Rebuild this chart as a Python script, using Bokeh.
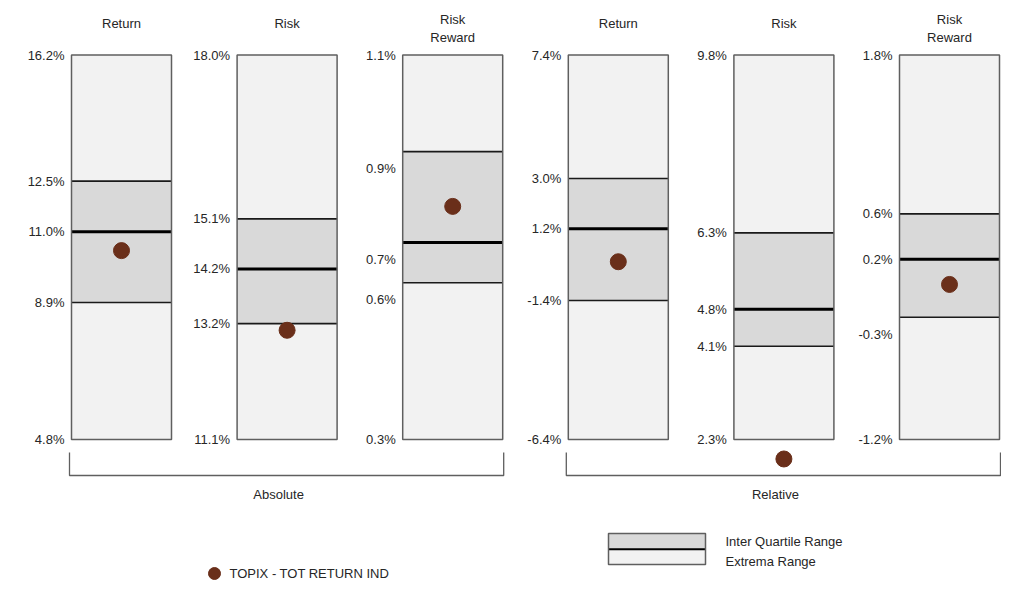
from bokeh.plotting import figure
from bokeh.models import Range1d, ColumnDataSource
from bokeh.core.properties import value
from bokeh.embed import file_html
from bokeh.resources import INLINE

# ---------------- data ----------------
panel_titles = ["Return", "Risk", "Risk\nReward", "Return", "Risk", "Risk\nReward"]
group_names = ["Absolute", "Relative"]
panel_group = [0, 0, 0, 1, 1, 1]
ext_min = [4.8, 11.1, 0.30, -6.4, 2.3, -1.23]
q1 = [8.86, 13.18, 0.626, -1.41, 4.12, -0.26]
median = [10.96, 14.16, 0.710, 1.16, 4.84, 0.20]
q3 = [12.46, 15.06, 0.899, 2.97, 6.33, 0.56]
ext_max = [16.2, 18.0, 1.10, 7.4, 9.8, 1.82]
topix = [10.40, 13.06, 0.785, -0.02, 1.92, 0.00]
series_name = "TOPIX - TOT RETURN IND"
legend_iqr = "Inter Quartile Range"
legend_ext = "Extrema Range"

# ---------------- layout / style ----------------
W, H = 1001, 582
BOX_TOP, BOX_BOTTOM = 54.5, 439.0
FIRST, STEP = 121.0, 165.6
BOX_W = 100.0
HW = BOX_W / 2 / STEP
FONT = value("Liberation Sans")
FS = "13px"
TXT = "#262626"
EXT_FILL = "#f2f2f2"
IQR_FILL = "#d9d9d9"
BOX_LINE = "#5f5f5f"
DOT = "#6a2f1a"
# per-panel label y offsets (px) for [min, q1, median, q3, max]
label_dy = [[0, 0, 0, 0, 0], [0, 0, 0, 0, 0], [0, 17, 17, 17, 0],
            [0, 0, 0, 0, 0], [0, 0, 0, 0, 0], [0, 17, 0, 0, 0]]

p = figure(width=W, height=H, x_range=Range1d(0, W), y_range=Range1d(H, 0),
           output_backend="svg", toolbar_location=None,
           x_axis_type=None, y_axis_type=None, min_border=0,
           outline_line_color=None, background_fill_color="white",
           border_fill_color="white")

p.extra_x_ranges = {"slot": Range1d(-FIRST / STEP, (W - FIRST) / STEP)}
yr = {}
for i in range(len(panel_titles)):
    k = (BOX_BOTTOM - BOX_TOP) / (ext_max[i] - ext_min[i])
    yr[f"v{i}"] = Range1d(ext_min[i] - (H - BOX_BOTTOM) / k, ext_max[i] + BOX_TOP / k)
p.extra_y_ranges = yr

for i in range(len(panel_titles)):
    rn = f"v{i}"
    kw = dict(x_range_name="slot", y_range_name=rn)
    # extrema range
    p.quad(left=[i - HW], right=[i + HW], bottom=[ext_min[i]], top=[ext_max[i]],
           fill_color=EXT_FILL, line_color=None, **kw)
    # inter quartile range
    p.quad(left=[i - HW], right=[i + HW], bottom=[q1[i]], top=[q3[i]],
           fill_color=IQR_FILL, line_color=None, **kw)
    p.segment(x0=[i - HW, i - HW], x1=[i + HW, i + HW], y0=[q1[i], q3[i]], y1=[q1[i], q3[i]],
              line_color="#1a1a1a", line_width=1.6, **kw)
    p.segment(x0=[i - HW], x1=[i + HW], y0=[median[i]], y1=[median[i]],
              line_color="black", line_width=3, **kw)
    p.quad(left=[i - HW], right=[i + HW], bottom=[ext_min[i]], top=[ext_max[i]],
           fill_color=None, line_color=BOX_LINE, line_width=1.5, **kw)
    # value labels
    vals = [ext_min[i], q1[i], median[i], q3[i], ext_max[i]]
    src = ColumnDataSource(dict(x=[i - HW - 7 / STEP] * 5, y=vals,
                                t=[f"{v:.1f}%" for v in vals], dy=label_dy[i]))
    p.text(x="x", y="y", text="t", y_offset="dy", source=src, text_align="right",
           text_baseline="middle", text_font=FONT, text_font_size=FS, text_color=TXT, **kw)
    # series dot
    p.scatter(x=[i], y=[topix[i]], size=16, fill_color=DOT, line_color=DOT, **kw)
    # title
    lines = panel_titles[i].split("\n")
    n = len(lines)
    for j, ln in enumerate(lines):
        yc = 23.3 + 5 * (n - 1) - (n - 1) * 9 + j * 18
        p.text(x=[i], y=[yc], text=[ln], x_range_name="slot", text_align="center",
               text_baseline="middle", text_font=FONT, text_font_size=FS, text_color=TXT)

# group brackets
for g, name in enumerate(group_names):
    idx = [i for i in range(len(panel_group)) if panel_group[i] == g]
    left = min(idx) - HW - 2 / STEP
    right = max(idx) + HW + 1 / STEP
    p.line(x=[left, left, right, right], y=[452, 475, 475, 452], x_range_name="slot",
           line_color=BOX_LINE, line_width=1.3)
    p.text(x=[(left + right) / 2 - 8 / STEP], y=[494], text=[name], x_range_name="slot",
           text_align="center", text_baseline="middle", text_font=FONT,
           text_font_size=FS, text_color=TXT)

# legend
p.quad(left=[608], right=[705], top=[533], bottom=[548.7], fill_color=IQR_FILL, line_color=None)
p.quad(left=[608], right=[705], top=[548.7], bottom=[564], fill_color=EXT_FILL, line_color=None)
p.segment(x0=[608], x1=[705], y0=[548.7], y1=[548.7], line_color="black", line_width=2)
p.quad(left=[608], right=[705], top=[533], bottom=[564], fill_color=None,
       line_color=BOX_LINE, line_width=1.5)
p.text(x=[725, 725], y=[541, 561], text=[legend_iqr, legend_ext], text_align="left",
       text_baseline="middle", text_font=FONT, text_font_size=FS, text_color=TXT)
p.scatter(x=[214], y=[573], size=12, fill_color=DOT, line_color=DOT)
p.text(x=[229], y=[573], text=[series_name], text_align="left", text_baseline="middle",
       text_font=FONT, text_font_size=FS, text_color=TXT)

open("out.html", "w").write(file_html(p, INLINE))
